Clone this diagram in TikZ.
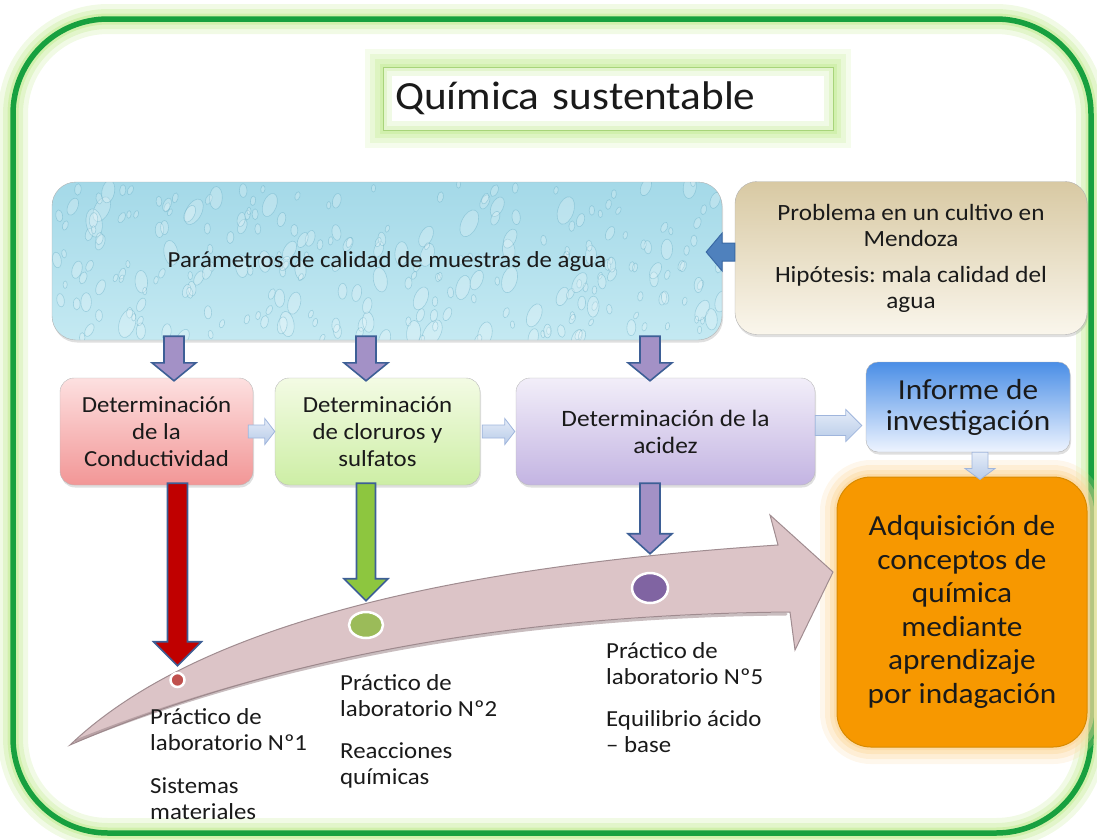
\documentclass[tikz,border=0pt]{standalone}
\usepackage{fontspec}
\setmainfont{Carlito}[FakeStretch=1.08]
\usetikzlibrary{calc,shadows,shapes.geometric}
\definecolor{framegreen}{HTML}{17A03F}
\definecolor{glowA}{HTML}{E6F6D2}
\definecolor{glowB}{HTML}{C6EC98}
\definecolor{titleedge}{HTML}{A8D47A}
\definecolor{waterT}{HTML}{A4D9E8}
\definecolor{waterB}{HTML}{C4E9F2}
\definecolor{dropedge}{HTML}{5FA9C2}
\definecolor{probT}{HTML}{D8C9A3}
\definecolor{probB}{HTML}{FAF6EC}
\definecolor{condT}{HTML}{FDE0E0}
\definecolor{condB}{HTML}{F29696}
\definecolor{clorT}{HTML}{F3FBE4}
\definecolor{clorB}{HTML}{CDEEA5}
\definecolor{acidT}{HTML}{F2EEF9}
\definecolor{acidB}{HTML}{C3B4E2}
\definecolor{infT}{HTML}{4A8EE6}
\definecolor{infB}{HTML}{EEF4FF}
\definecolor{orangefill}{HTML}{F79800}
\definecolor{orangeedge}{HTML}{D88A00}
\definecolor{orangeglow}{HTML}{FCD9A0}
\definecolor{purpfill}{HTML}{A391C6}
\definecolor{arredge}{HTML}{3D5F96}
\definecolor{redfill}{HTML}{C00000}
\definecolor{greenfill}{HTML}{8DC63F}
\definecolor{lightT}{HTML}{E4ECF8}
\definecolor{lightB}{HTML}{B8CBE8}
\definecolor{lightedge}{HTML}{9FB5DC}
\definecolor{bluefill}{HTML}{4F81BD}
\definecolor{blueedge}{HTML}{3B6AA5}
\definecolor{bandfill}{HTML}{DCC4C7}
\definecolor{bandedge}{HTML}{A08C90}
\definecolor{bandshade}{HTML}{9C868A}
\definecolor{dotred}{HTML}{C0504D}
\definecolor{dotgreen}{HTML}{9BBB59}
\definecolor{dotpurple}{HTML}{8064A2}
\definecolor{txt}{HTML}{1A1A1A}

\newcommand{\vblock}[6]{\draw[#1] let \p1=#2, \p2=#3 in
  (\x1-#4,\y1) -- (\x1+#4,\y1) -- (\x1+#4,\y2+#6) -- (\x1+#5,\y2+#6) -- (\x1,\y2)
  -- (\x1-#5,\y2+#6) -- (\x1-#4,\y2+#6) -- cycle;}
\newcommand{\rblock}[6]{\draw[#1] let \p1=#2, \p2=#3 in
  (\x1,\y1-#4) -- (\x1,\y1+#4) -- (\x2-#6,\y1+#4) -- (\x2-#6,\y1+#5) -- (\x2,\y1)
  -- (\x2-#6,\y1-#5) -- (\x2-#6,\y1-#4) -- cycle;}
\newcommand{\lblock}[6]{\draw[#1] let \p1=#2, \p2=#3 in
  (\x1,\y1-#4) -- (\x1,\y1+#4) -- (\x2+#6,\y1+#4) -- (\x2+#6,\y1+#5) -- (\x2,\y1)
  -- (\x2+#6,\y1-#5) -- (\x2+#6,\y1-#4) -- cycle;}

\begin{document}
\frenchspacing
\begin{tikzpicture}[x=1pt,y=-1pt,
  every node/.append style={text=txt},
  softshadow/.style={drop shadow={opacity=.25,shadow xshift=1pt,shadow yshift=-2.5pt}},
  titlebox/.style={draw=titleedge, fill=white, line width=1pt, minimum width=450pt,
    minimum height=63pt, text width=426pt, align=left,
    font=\fontsize{40}{48}\selectfont,
    preaction={draw=glowB, draw opacity=.18, line width=36pt, rounded corners=12pt},
    preaction={draw=glowB, draw opacity=.25, line width=26pt, rounded corners=8pt},
    preaction={draw=glowB, draw opacity=.35, line width=16pt, rounded corners=4pt},
    preaction={draw=glowB, draw opacity=.5, line width=7pt},
    path picture={
      \draw[draw=glowB, draw opacity=.25, line width=18pt]
        (path picture bounding box.south west) rectangle (path picture bounding box.north east);
      \draw[draw=glowB, draw opacity=.3, line width=8pt]
        (path picture bounding box.south west) rectangle (path picture bounding box.north east);}},
  waterbox/.style={rounded corners=24pt, draw=gray!60, top color=waterT, bottom color=waterB,
    minimum width=670pt, minimum height=158pt, font=\fontsize{23}{27}\selectfont, softshadow},
  probbox/.style={rounded corners=22pt, draw=gray!60, top color=probT, bottom color=probB,
    minimum width=352pt, minimum height=153pt, align=center,
    font=\fontsize{23.3}{26}\selectfont, softshadow},
  lowbox/.style={rounded corners=14pt, draw=gray!55, align=center, softshadow},
  infbox/.style={rounded corners=12pt, draw=gray!60, top color=infT, bottom color=infB,
    minimum width=204pt, minimum height=90pt, align=center,
    font=\fontsize{29}{31}\selectfont, softshadow},
  goalbox/.style={rounded corners=34pt, draw=orangeedge, fill=orangefill, line width=1pt,
    minimum width=250pt, minimum height=270pt, align=center,
    font=\fontsize{29}{33.5}\selectfont,
    preaction={draw=orangeglow, draw opacity=.2, line width=34pt},
    preaction={draw=orangeglow, draw opacity=.3, line width=24pt},
    preaction={draw=orangeglow, draw opacity=.45, line width=14pt},
    preaction={draw=orangeglow, draw opacity=.7, line width=6pt}},
  purparr/.style={fill=purpfill, draw=arredge, line width=1.6pt},
  redarr/.style={fill=redfill, draw=arredge, line width=1.6pt},
  greenarr/.style={fill=greenfill, draw=arredge, line width=1.6pt},
  lightarr/.style={top color=lightT, bottom color=lightB, draw=lightedge, line width=.8pt},
  bluearr/.style={fill=bluefill, draw=blueedge, line width=1pt},
  bigarr/.style={fill=bandfill, draw=bandedge, line width=1pt},
  dotc/.style={circle, draw=white, line width=2.5pt, inner sep=0pt},
  dote/.style={ellipse, draw=white, line width=2.5pt, inner sep=0pt},
  labtext/.style={anchor=north west, align=left, inner sep=0pt,
    font=\fontsize{23}{26}\selectfont}
]
\useasboundingbox (0,0) rectangle (1097,839);

% outer frame with glow
\draw[line width=30pt, draw=glowB, draw opacity=.25, rounded corners=95pt] (13,19) rectangle (1091,833);
\draw[line width=20pt, draw=glowB, draw opacity=.35, rounded corners=95pt] (13,19) rectangle (1091,833);
\draw[line width=11pt, draw=glowB, draw opacity=.6, rounded corners=95pt] (13,19) rectangle (1091,833);
\draw[line width=5.5pt, draw=framegreen, rounded corners=95pt] (13,19) rectangle (1091,833);

% title
\node[titlebox] (title) at (608,98.5) {Química sustentable};

% water parameters box with droplet texture
\node[waterbox, path picture={
  \pgfmathsetseed{12}
  \foreach \i in {1,...,260}{
    \pgfmathsetmacro{\xx}{-335+670*rnd}
    \pgfmathsetmacro{\yy}{-79+158*rnd}
    \pgfmathsetmacro{\rr}{2+7*rnd*rnd}
    \pgfmathsetmacro{\ang}{60+40*rnd}
    \pgfmathsetlengthmacro{\rx}{\rr*1.8}
    \pgfmathsetlengthmacro{\ry}{\rr}
    \draw[draw=dropedge, draw opacity=.4, fill=white, fill opacity=.22, line width=.6pt]
      ($(path picture bounding box.center)+(\xx,\yy)$) ellipse [x radius=\rx, y radius=\ry, rotate=\ang];
  }}] (water) at (387,261) {Parámetros de calidad de muestras de agua};

% problem box
\node[probbox] (prob) at (911,258)
  {Problema en un cultivo en\\Mendoza\\[10pt]Hipótesis: mala calidad del\\agua};

% lower boxes
\node[lowbox, top color=condT, bottom color=condB, minimum width=193pt, minimum height=107pt,
  font=\fontsize{23}{27}\selectfont]
  (cond) at (156.5,431.5) {Determinación\\de la\\Conductividad};
\node[lowbox, top color=clorT, bottom color=clorB, minimum width=205pt, minimum height=107pt,
  font=\fontsize{23}{27}\selectfont]
  (clor) at (377.5,431.5) {Determinación\\de cloruros y\\sulfatos};
\node[lowbox, top color=acidT, bottom color=acidB, minimum width=299pt, minimum height=107pt,
  font=\fontsize{23.5}{27}\selectfont]
  (acid) at (665.5,431.5) {Determinación de la\\acidez};
\node[infbox] (inform) at (968,407) {Informe de\\investigación};
\node[goalbox] (goal) at (962,612)
  {Adquisición de\\conceptos de\\química\\mediante\\aprendizaje\\por indagación};

% arrow columns
\coordinate (a1) at (174,0);
\coordinate (a2) at (366,0);
\coordinate (a3) at (650,0);

% problem -> water
\lblock{bluearr}{($(prob.west)+(0,-6)$)}{($(water.east)+(-16,0)$)}{9pt}{19pt}{16pt}

% water -> lower boxes
\vblock{purparr}{($(a1 |- water.south)+(0,-4)$)}{($(a1 |- cond.north)+(0,3)$)}{10pt}{22pt}{18pt}
\vblock{purparr}{($(a2 |- water.south)+(0,-4)$)}{($(a2 |- clor.north)+(0,3)$)}{10pt}{22pt}{18pt}
\vblock{purparr}{($(a3 |- water.south)+(0,-4)$)}{($(a3 |- acid.north)+(0,3)$)}{10pt}{22pt}{18pt}

% horizontal light arrows
\rblock{lightarr}{($(cond.east)+(-5,0)$)}{(clor.west)}{6.5pt}{13pt}{10pt}
\rblock{lightarr}{($(clor.east)+(2,0)$)}{($(acid.west)+(-1,0)$)}{6.5pt}{13pt}{10pt}
\rblock{lightarr}{($(acid.east)+(0,-6)$)}{($(inform.west)+(-4,0)$)}{10pt}{16pt}{16pt}
\vblock{lightarr}{($(inform.south)+(12,0)$)}{($(goal.north)+(15,3)$)}{8pt}{15pt}{11pt}

% big curved timeline arrow
\draw[bigarr] (70,745) .. controls (180,640) and (400,570) .. (778,545)
  -- (770,515) -- (833,572) -- (795,650) -- (790,612)
  .. controls (450,615) and (220,680) .. (70,745) -- cycle;
\draw[bandshade, draw opacity=.55, line width=3pt, line cap=round]
  (786,614) .. controls (450,617) and (222,682) .. (76,741);

% dots on the timeline
\node[dotc, fill=dotred, minimum size=14pt] (dot1) at (177.5,680) {};
\node[dote, fill=dotgreen, minimum width=34pt, minimum height=26pt] (dot2) at (366,625) {};
\node[dote, fill=dotpurple, minimum width=36pt, minimum height=30pt] (dot3) at (650,588) {};

% lab arrows
\vblock{redarr}{($(dot1 |- cond.south)+(0,-2)$)}{($(dot1.north)+(0,-6)$)}{10pt}{24pt}{24pt}
\vblock{greenarr}{($(dot2 |- clor.south)+(0,-2)$)}{($(dot2.north)+(0,-10)$)}{9.5pt}{22pt}{22pt}
\vblock{purparr}{($(dot3 |- acid.south)+(0,-2)$)}{($(dot3.north)+(0,-18)$)}{10pt}{22pt}{20pt}

% lab texts
\node[labtext] (lab1) at (150,708) {Práctico de\\laboratorio Nº1\\[17pt]Sistemas\\materiales};
\node[labtext] (lab2) at (340,674) {Práctico de\\laboratorio Nº2\\[16pt]Reacciones\\químicas};
\node[labtext] (lab3) at (606,642) {Práctico de\\laboratorio Nº5\\[16pt]Equilibrio ácido\\– base};
\end{tikzpicture}
\end{document}
